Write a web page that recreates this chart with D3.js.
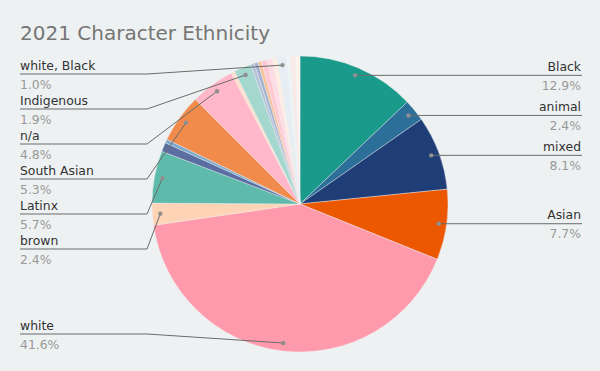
<!DOCTYPE html>
<html>
<head>
<meta charset="utf-8">
<script src="https://cdn.jsdelivr.net/npm/d3@7"></script>
<style>
	body { margin: 0; background: #eef1f2; }
	svg { display: block; font-family: "DejaVu Sans", Verdana, sans-serif; }
	.title { font-size: 20px; fill: #757575; }
	.name { font-size: 12.4px; fill: #333; }
	.note { font-size: 12.4px; fill: #999; }
	.leader { fill: none; stroke: #6b6b6b; stroke-width: 1; }
	.dot { fill: #8f8f8f; }
</style>
</head>
<body>
<div class="container"></div>
<script>

// slices clockwise from 12 o'clock; unnamed ones carry no label in the chart
const categories = ["Black", "animal", "mixed", "Asian", "white", "brown", "Latinx", "", "",
	"South Asian", "n/a", "", "Indigenous", "", "", "", "", "", "", "white, Black", "", "", ""];
const values = [12.9, 2.4, 8.1, 7.7, 41.6, 2.4, 5.7, 1.0, 0.4,
	5.3, 4.8, 0.4, 1.9, 0.4, 0.4, 0.4, 0.6, 0.6, 0.5, 1.0, 0.5, 0.5, 0.5];
const palette = ["#1a9a8a", "#2c6f98", "#1f3d76", "#ec5800", "#ff9aad", "#ffd3b5", "#5ebbab", "#5a6ea2", "#7ca9cb",
	"#f08b4b", "#ffb7c9", "#ffe0cc", "#a4d7ce", "#b5c4d9", "#a2b1d0", "#f8c29c", "#ffc8d3", "#ffdbe3", "#ffede2", "#e7eef3", "#eef3f6", "#fbe9e6", "#fff4ee"];

const width = 600, height = 371;
const cx = 300, cy = 204, radius = 148;
const dotRadius = 140;
const labelGap = 35, labelTop = 74, labelBottom = 334;

const formatPct = d3.format(".1%");
const total = d3.sum(values);

const svg = d3.select(".container")
	.append("svg")
		.attr("width", width)
		.attr("height", height);

svg.append("text")
	.attr("class", "title")
	.attr("x", 20)
	.attr("y", 40)
	.text("2021 Character Ethnicity");

const pie = d3.pie().sort(null).value((d) => d.value);
const slices = pie(categories.map((name, i) => ({ name, value: values[i], color: palette[i] })));

const arc = d3.arc().innerRadius(0).outerRadius(radius);
const dotArc = d3.arc().innerRadius(dotRadius).outerRadius(dotRadius);

const chart = svg.append("g")
	.attr("transform", `translate(${ cx }, ${ cy })`);

chart.selectAll("path.slice")
	.data(slices)
		.enter()
	.append("path")
		.attr("class", "slice")
		.attr("d", arc)
		.attr("fill", (d) => d.data.color)
		.attr("stroke", "#eef1f2")
		.attr("stroke-width", 0.4);

// label placement: push labels down so they keep a fixed gap, clamp to the frame
const labelled = slices.filter((d) => d.data.name !== "").map((d) => {
	const [x, y] = dotArc.centroid(d);
	const mid = (d.startAngle + d.endAngle) / 2;
	return { d, x: x + cx, y: y + cy, left: mid > Math.PI };
});

[true, false].forEach((side) => {
	const group = labelled.filter((l) => l.left === side).sort((a, b) => a.y - b.y);
	let prev = -Infinity;
	group.forEach((l) => {
		l.ly = Math.min(Math.max(l.y, prev + labelGap, labelTop), labelBottom);
		prev = l.ly;
	});
});

const labels = svg.selectAll("g.label")
	.data(labelled)
		.enter()
	.append("g")
		.attr("class", "label");

labels.append("polyline")
	.attr("class", "leader")
	.attr("points", (l) => l.left
		? [[20, l.ly], [cx - radius - 5, l.ly], [l.x, l.y]].join(" ")
		: [[l.x, l.y], [cx + radius + 5, l.ly], [582, l.ly]].join(" "));

labels.append("circle")
	.attr("class", "dot")
	.attr("cx", (l) => l.x)
	.attr("cy", (l) => l.y)
	.attr("r", 2.2);

labels.append("text")
	.attr("class", "name")
	.attr("x", (l) => l.left ? 20 : 581)
	.attr("y", (l) => l.ly - 4.5)
	.attr("text-anchor", (l) => l.left ? "start" : "end")
	.text((l) => l.d.data.name);

labels.append("text")
	.attr("class", "note")
	.attr("x", (l) => l.left ? 20 : 581)
	.attr("y", (l) => l.ly + 14.5)
	.attr("text-anchor", (l) => l.left ? "start" : "end")
	.text((l) => formatPct(l.d.data.value / total));

</script>
</body>
</html>
